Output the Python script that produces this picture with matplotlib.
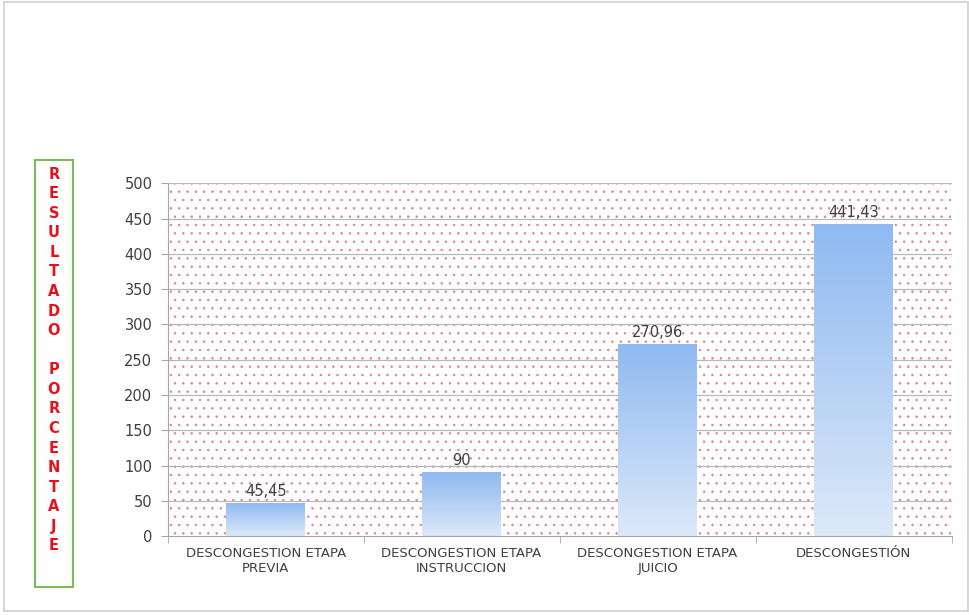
#!/usr/bin/env python3
"""
Descongestion por etapa - bar chart
"""

import matplotlib.pyplot as plt
import numpy as np
from matplotlib.colors import LinearSegmentedColormap
from matplotlib.patches import Rectangle

categories = [
    "DESCONGESTION ETAPA\nPREVIA",
    "DESCONGESTION ETAPA\nINSTRUCCION",
    "DESCONGESTION ETAPA\nJUICIO",
    "DESCONGESTIÓN",
]
values = [45.45, 90, 270.96, 441.43]
value_labels = ["45,45", "90", "270,96", "441,43"]
y_ticks = list(range(0, 501, 50))
axis_title = "RESULTADO PORCENTAJE"


def main():
    plt.rcParams["hatch.linewidth"] = 0.5

    fig = plt.figure(figsize=(9.69, 6.15), dpi=100)
    fig.patch.set_facecolor("white")

    # thin frame around the whole slide
    fig.add_artist(Rectangle((0.004, 0.006), 0.995, 0.99, transform=fig.transFigure,
                             fill=False, edgecolor="#cfcfcf", linewidth=1.2))

    ax = fig.add_axes([0.173, 0.128, 0.809, 0.574])

    # dotted background
    ax.add_patch(Rectangle((-0.5, 0), len(categories), 500, facecolor="white",
                           edgecolor="#e07d8c", hatch="..", linewidth=0, zorder=0))

    for y in y_ticks[1:]:
        ax.axhline(y, color="#b8b8b8", linewidth=0.9, zorder=1)

    # gradient bars
    grad = np.linspace(0, 1, 256).reshape(-1, 1)
    cmap = LinearSegmentedColormap.from_list("bar", ["#dde9f9", "#8fbaf1"])
    width = 0.4
    for i, v in enumerate(values):
        ax.imshow(grad, extent=(i - width / 2, i + width / 2, 0, v), origin="lower",
                  cmap=cmap, aspect="auto", zorder=2)
        ax.text(i, v + 7, value_labels[i], ha="center", va="bottom",
                fontsize=10.5, color="#404040", zorder=3)
    ax.set_xlim(-0.5, len(categories) - 0.5)
    ax.set_ylim(0, 500)

    ax.set_yticks(y_ticks)
    ax.set_yticklabels([str(t) for t in y_ticks], fontsize=10.5, color="#404040")
    ax.set_xticks(range(len(categories)))
    ax.set_xticklabels(categories, fontsize=9.5, color="#404040")
    ax.tick_params(axis="x", length=0, pad=8)
    ax.tick_params(axis="y", length=5, color="#a6a6a6", pad=6)
    # category boundary ticks
    ax.set_xticks(np.arange(-0.5, len(categories), 1), minor=True)
    ax.tick_params(axis="x", which="minor", length=5, color="#a6a6a6")

    for s in ["top", "right"]:
        ax.spines[s].set_visible(False)
    for s in ["left", "bottom"]:
        ax.spines[s].set_color("#a6a6a6")

    # vertical axis title in a green box
    fig.add_artist(Rectangle((35 / 969, 1 - 587 / 615), 38 / 969, 427 / 615,
                             transform=fig.transFigure, fill=False,
                             edgecolor="#7dba5a", linewidth=1.5))
    letters = "\n".join(axis_title)
    fig.text(54 / 969, 1 - 360 / 615, letters, ha="center", va="center",
             fontsize=10.5, fontweight="bold", color="#e8101a", linespacing=1.38)

    plt.savefig("out.png", dpi=100)


if __name__ == "__main__":
    main()
